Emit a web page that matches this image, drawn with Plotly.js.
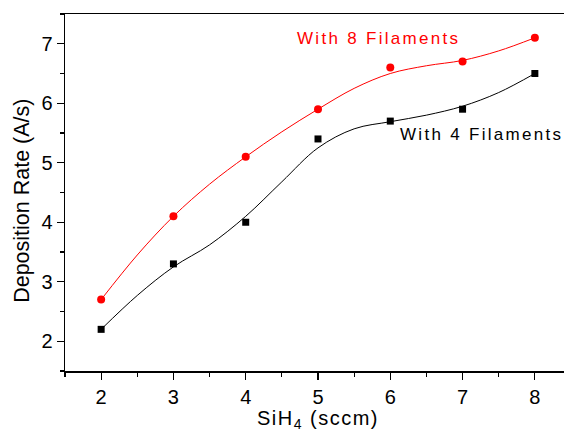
<!DOCTYPE html>
<html>
<head>
<meta charset="utf-8">
<script src="https://cdn.plot.ly/plotly-3.0.1.min.js"></script>
<style>
html,body{margin:0;padding:0;overflow:hidden;background:#fff;}
#chart{width:600px;height:432px;}
.annotation-text{letter-spacing:2.3px;}
.ytitle-ann .annotation-text{letter-spacing:0;}
.xtitle{letter-spacing:1.5px;}
</style>
</head>
<body>
<div id="chart"></div>
<script>
// Measured data points
const sih4 = [2, 3, 4, 5, 6, 7, 8];
const rate8 = [2.7, 4.1, 5.1, 5.9, 6.6, 6.7, 7.1];
const rate4 = [2.2, 3.3, 4.0, 5.4, 5.7, 5.9, 6.5];

// Fitted smooth curves
const fitX = [2, 2.5, 3, 3.5, 4, 4.5, 5, 5.5, 6, 6.5, 7, 7.5, 8];
const fit8 = [2.7, 3.45, 4.1, 4.64, 5.1, 5.52, 5.9, 6.25, 6.5, 6.63, 6.72, 6.88, 7.1];
const fit4 = [2.2, 2.77, 3.25, 3.62, 4.1, 4.68, 5.25, 5.57, 5.69, 5.8, 5.95, 6.18, 6.5];

const label8 = 'With 8 Filaments';
const label4 = 'With 4 Filaments';
const xTitle = 'SiH<sub>4</sub> (sccm)';
const yTitle = 'Deposition Rate (A/s)';

const font = 'Liberation Sans, Arial, sans-serif';

const traces = [
  {x: fitX, y: fit8, mode: 'lines', line: {color: '#ff0000', width: 1, shape: 'spline', smoothing: 1}, hoverinfo: 'skip'},
  {x: fitX, y: fit4, mode: 'lines', line: {color: '#000000', width: 1, shape: 'spline', smoothing: 1}, hoverinfo: 'skip'},
  {x: sih4, y: rate8, mode: 'markers', marker: {color: '#ff0000', symbol: 'circle', size: 8}},
  {x: sih4, y: rate4, mode: 'markers', marker: {color: '#000000', symbol: 'square', size: 7}}
];

const axisCommon = {
  showgrid: false, zeroline: false,
  showline: true, linecolor: '#000', linewidth: 1.5, mirror: true,
  ticks: 'outside', ticklen: 7, tickwidth: 1.2, tickcolor: '#000',
  tickfont: {family: font, size: 20, color: '#000'},
  minor: {ticks: 'outside', ticklen: 4, tickwidth: 1.2, tickcolor: '#000', dtick: 0.5}
};

const layout = {
  width: 600, height: 432,
  margin: {l: 65, r: 29, t: 14, b: 61},
  showlegend: false,
  paper_bgcolor: '#fff', plot_bgcolor: '#fff',
  xaxis: Object.assign({}, axisCommon, {
    range: [1.5, 8.5], dtick: 1, tick0: 2,
    title: {text: xTitle, font: {family: font, size: 20, color: '#000'}, standoff: 13}
  }),
  yaxis: Object.assign({}, axisCommon, {
    range: [1.5, 7.5], dtick: 1, tick0: 2
  }),
  annotations: [
    {x: 5.84, y: 7.08, xref: 'x', yref: 'y', text: label8, showarrow: false, xanchor: 'center', yanchor: 'middle',
     font: {family: font, size: 17, color: '#ff0000'}},
    {x: 6.11, y: 5.47, xref: 'x', yref: 'y', text: label4, showarrow: false, xanchor: 'left', yanchor: 'middle',
     font: {family: font, size: 17, color: '#000000'}},
    {x: -0.085, y: 0.479, xref: 'paper', yref: 'paper', text: yTitle, showarrow: false, textangle: -90,
     xanchor: 'center', yanchor: 'middle', font: {family: font, size: 21.5, color: '#000'}}
  ]
};

Plotly.newPlot('chart', traces, layout, {displayModeBar: false, staticPlot: true}).then(function () {
  // y title annotation should not get the letter spacing of the series labels
  const anns = document.querySelectorAll('.annotation');
  if (anns.length >= 3) anns[2].classList.add('ytitle-ann');
});
</script>
</body>
</html>
